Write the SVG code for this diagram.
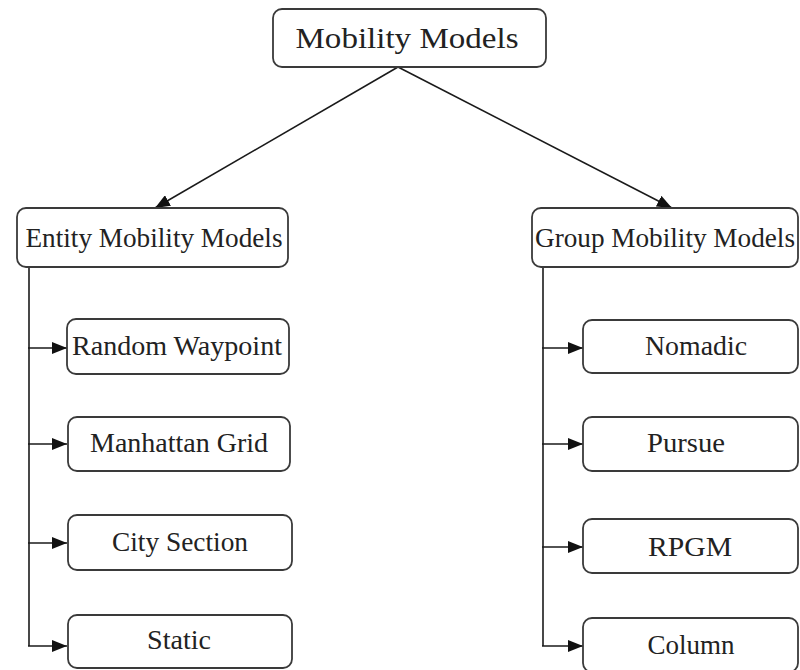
<svg xmlns="http://www.w3.org/2000/svg" width="800" height="670" viewBox="0 0 800 670">
<style>
.box{fill:#fff;stroke:#3a3a3a;stroke-width:1.8}
.t{fill:#222;text-anchor:middle;font-family:"Liberation Serif","Times New Roman","DejaVu Serif",serif}
.c{stroke:#1a1a1a;stroke-width:1.6;fill:none}
</style>
<defs>
<marker id="ah" viewBox="0 0 15 12" refX="15" refY="6" markerWidth="15" markerHeight="12" markerUnits="userSpaceOnUse" orient="auto">
<path d="M0,0 L15,6 L0,12 Z" fill="#111"/>
</marker>
</defs>
<rect width="800" height="670" fill="#fff"/>
<g id="connectors">
<line class="c" x1="398" y1="67" x2="155" y2="208" marker-end="url(#ah)"/>
<line class="c" x1="398" y1="67" x2="672" y2="208" marker-end="url(#ah)"/>
<polyline class="c" points="29,267 29,646"/>
<line class="c" x1="28" y1="348" x2="67" y2="348" marker-end="url(#ah)"/>
<line class="c" x1="28" y1="444" x2="67" y2="444" marker-end="url(#ah)"/>
<line class="c" x1="28" y1="543" x2="67" y2="543" marker-end="url(#ah)"/>
<line class="c" x1="28" y1="646" x2="67" y2="646" marker-end="url(#ah)"/>
<polyline class="c" points="543,267 543,646"/>
<line class="c" x1="542" y1="348" x2="583" y2="348" marker-end="url(#ah)"/>
<line class="c" x1="542" y1="444" x2="583" y2="444" marker-end="url(#ah)"/>
<line class="c" x1="542" y1="547" x2="583" y2="547" marker-end="url(#ah)"/>
<line class="c" x1="542" y1="646" x2="583" y2="646" marker-end="url(#ah)"/>
</g>
<g id="mobility-models">
<rect class="box" x="273" y="9" width="273" height="58" rx="9"/>
<text class="t" x="407" y="48" font-size="29" textLength="223" lengthAdjust="spacingAndGlyphs">Mobility Models</text>
</g>
<g id="entity-mobility-models">
<rect class="box" x="17" y="208" width="271" height="59" rx="9"/>
<text class="t" x="154" y="247" font-size="27" textLength="257" lengthAdjust="spacingAndGlyphs">Entity Mobility Models</text>
</g>
<g id="group-mobility-models">
<rect class="box" x="532" y="208" width="266" height="59" rx="9"/>
<text class="t" x="665" y="247" font-size="27" textLength="260" lengthAdjust="spacingAndGlyphs">Group Mobility Models</text>
</g>
<g id="random-waypoint">
<rect class="box" x="67" y="319" width="222" height="55" rx="9"/>
<text class="t" x="177" y="355" font-size="27" textLength="210" lengthAdjust="spacingAndGlyphs">Random Waypoint</text>
</g>
<g id="manhattan-grid">
<rect class="box" x="68" y="417" width="222" height="54" rx="9"/>
<text class="t" x="179" y="452" font-size="27" textLength="178" lengthAdjust="spacingAndGlyphs">Manhattan Grid</text>
</g>
<g id="city-section">
<rect class="box" x="68" y="515" width="224" height="55" rx="9"/>
<text class="t" x="180" y="551" font-size="27" textLength="136" lengthAdjust="spacingAndGlyphs">City Section</text>
</g>
<g id="static">
<rect class="box" x="68" y="615" width="224" height="53" rx="9"/>
<text class="t" x="179" y="649" font-size="27" textLength="64" lengthAdjust="spacingAndGlyphs">Static</text>
</g>
<g id="nomadic">
<rect class="box" x="583" y="320" width="215" height="53" rx="9"/>
<text class="t" x="696" y="355" font-size="27" textLength="102" lengthAdjust="spacingAndGlyphs">Nomadic</text>
</g>
<g id="pursue">
<rect class="box" x="583" y="417" width="215" height="54" rx="9"/>
<text class="t" x="686" y="452" font-size="27" textLength="78" lengthAdjust="spacingAndGlyphs">Pursue</text>
</g>
<g id="rpgm">
<rect class="box" x="583" y="519" width="215" height="54" rx="9"/>
<text class="t" x="690" y="556" font-size="27" textLength="84" lengthAdjust="spacingAndGlyphs">RPGM</text>
</g>
<g id="column">
<rect class="box" x="583" y="618" width="215" height="54" rx="9"/>
<text class="t" x="691" y="654" font-size="27" textLength="87" lengthAdjust="spacingAndGlyphs">Column</text>
</g>
</svg>
